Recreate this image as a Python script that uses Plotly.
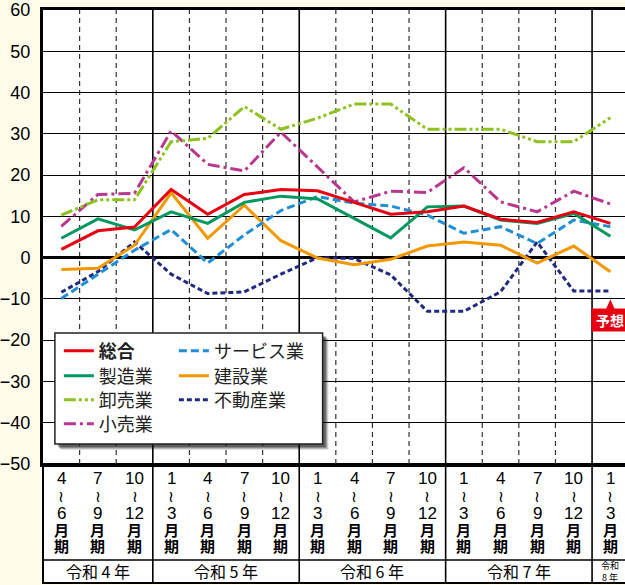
import plotly.graph_objects as go

# ---- data ----
start_month = [4, 7, 10, 1, 4, 7, 10, 1, 4, 7, 10, 1, 4, 7, 10, 1]
end_month = [6, 9, 12, 3, 6, 9, 12, 3, 6, 9, 12, 3, 6, 9, 12, 3]
year_labels = ["令和 4 年", "令和 5 年", "令和 6 年", "令和 7 年", "令和<br>8 年"]
year_counts = [3, 4, 4, 4, 1]

sogo = [2.0, 6.5, 7.4, 16.5, 10.5, 15.3, 16.5, 16.2, 13.4, 10.5, 11.1, 12.5, 9.3, 8.5, 11.1, 8.3]
seizo = [4.7, 9.4, 6.7, 11.1, 8.3, 13.4, 14.9, 14.2, 9.5, 4.8, 12.3, 12.5, 9.1, 8.3, 10.7, 5.2]
oroshi = [10.3, 14.0, 14.0, 28.1, 28.9, 36.6, 31.1, 33.8, 37.2, 37.2, 31.1, 31.1, 31.1, 28.1, 28.1, 33.9]
kouri = [7.6, 15.3, 15.6, 30.7, 22.6, 21.0, 30.4, 21.9, 13.5, 16.1, 15.8, 21.8, 13.5, 11.1, 16.1, 13.0]
service = [-9.9, -4.0, 1.8, 6.8, -1.3, 5.5, 11.4, 14.8, 13.2, 12.5, 10.3, 5.9, 7.5, 3.4, 9.1, 7.5]
kensetsu = [-2.9, -2.6, 3.0, 15.7, 4.7, 12.7, 4.1, -0.1, -1.7, -0.4, 2.8, 3.8, 3.0, -1.3, 2.8, -3.4]
fudosan = [-8.4, -3.4, 3.8, -4.0, -8.7, -8.3, -4.0, 0.0, -0.2, -4.2, -13.0, -13.0, -8.3, 3.8, -8.1, -8.1]

y_ticks = [60, 50, 40, 30, 20, 10, 0, -10, -20, -30, -40, -50]

n = len(start_month)
xs = list(range(n))

W, H = 625, 585
PLOT_TOP, PLOT_BOT, PLOT_L = 10, 464, 38


def py(Y):
    return (PLOT_BOT - Y) / (PLOT_BOT - PLOT_TOP)


def px(X):
    return (X - PLOT_L) / (W - PLOT_L)


# series: name, values, color, dash, legend column, legend row
series = [
    ("不動産業", fudosan, "#1F2A80", "5px,3px", 1, 2),
    ("建設業", kensetsu, "#F39800", "solid", 1, 1),
    ("サービス業", service, "#1E8FD6", "8px,4px", 1, 0),
    ("小売業", kouri, "#B8378F", "12px,4px,3px,4px", 0, 3),
    ("卸売業", oroshi, "#8DC21F", "12px,3px,3px,3px,3px,3px", 0, 2),
    ("製造業", seizo, "#00985E", "solid", 0, 1),
    ("<b>総合</b>", sogo, "#E60012", "solid", 0, 0),
]

col_x = [54, 170]
row_y = [351, 376, 400, 424]

legend_common = dict(bgcolor="rgba(0,0,0,0)", borderwidth=0,
                     font=dict(family="Noto Sans CJK JP", size=18, color="#222"),
                     orientation="v", xanchor="left", yanchor="middle",
                     tracegroupgap=0, itemwidth=30)

fig = go.Figure()
legend_layouts = {}
for k, (name, vals, color, dash, col, row) in enumerate(series):
    lg = "legend" if k == 0 else "legend%d" % (k + 1)
    fig.add_trace(go.Scatter(
        x=xs, y=vals, mode="lines", name=name,
        line=dict(color=color, width=3, dash=dash),
        legend=lg,
    ))
    legend_layouts[lg] = dict(x=px(col_x[col]), y=py(row_y[row]), **legend_common)

shapes = []
# table below plot
shapes.append(dict(type="rect", xref="paper", yref="paper", x0=0, x1=1.02,
                   y0=py(583), y1=0, fillcolor="white",
                   line=dict(color="black", width=2), layer="below"))
shapes.append(dict(type="line", xref="paper", yref="paper", x0=0, x1=1.02,
                   y0=py(560), y1=py(560), line=dict(color="black", width=1.5),
                   layer="below"))

# vertical boundaries
year_bounds = []
acc = 0
for c in year_counts[:-1]:
    acc += c
    year_bounds.append(acc - 0.5)
for k in range(n - 1):
    b = k + 0.5
    if b in year_bounds:
        shapes.append(dict(type="line", xref="x", yref="paper", x0=b, x1=b,
                           y0=py(583), y1=1, line=dict(color="black", width=1.6),
                           layer="below"))
    else:
        shapes.append(dict(type="line", xref="x", yref="paper", x0=b, x1=b,
                           y0=0, y1=1, line=dict(color="#333", width=1.2, dash="5px,4px"),
                           layer="below"))

# legend box with shadow
bx0, bx1, by0, by1 = 50, 320, 444, 333
for off, op in [(6, 0.12), (5, 0.18), (4, 0.25), (3, 0.3)]:
    shapes.append(dict(type="rect", xref="paper", yref="paper",
                       x0=px(bx0 + off), x1=px(bx1 + off), y0=py(by0 + off), y1=py(by1 + off),
                       fillcolor="rgba(0,0,0,%s)" % op, line=dict(width=0), layer="above"))
shapes.append(dict(type="rect", xref="paper", yref="paper",
                   x0=px(bx0), x1=px(bx1), y0=py(by0), y1=py(by1),
                   fillcolor="white", line=dict(color="#222", width=1.5), layer="above"))

# callout triangle for 予想
last = n - 1
tip = fudosan[last] - 2.0
shapes.append(dict(type="path", xref="x", yref="y",
                   path="M %f,%f L %f,%f L %f,%f Z" % (last - 0.12, tip - 2.4, last, tip, last + 0.12, tip - 2.4),
                   fillcolor="#E60012", line=dict(width=0), layer="above"))

annotations = []
num_font = dict(family="Liberation Sans, Arial, sans-serif", size=17, color="black")
cjk_font = dict(family="Noto Sans CJK JP", size=15, color="black")
for i in range(n):
    rows = [(str(start_month[i]), 478, num_font),
            ("≀", 496, dict(family="DejaVu Sans", size=16, color="black")),
            (str(end_month[i]), 513, num_font),
            ("<b>月</b>", 529, cjk_font),
            ("<b>期</b>", 545, cjk_font)]
    for txt, Y, f in rows:
        annotations.append(dict(x=i, y=py(Y), xref="x", yref="paper", text=txt,
                                showarrow=False, font=f, xanchor="center", yanchor="middle",
                                borderpad=0))

acc = 0
for lbl, c in zip(year_labels, year_counts):
    center = acc + (c - 1) / 2
    acc += c
    small = "<br>" in lbl
    annotations.append(dict(x=center, y=py(571), xref="x", yref="paper", text=lbl,
                            showarrow=False,
                            font=dict(family="Noto Sans CJK JP", size=9 if small else 16,
                                      color="black"),
                            xanchor="center", yanchor="middle", borderpad=0))

annotations.append(dict(x=last, y=fudosan[last] - 7.0, xref="x", yref="y",
                        text="<b>予想</b>", showarrow=False,
                        font=dict(family="Noto Sans CJK JP", size=14, color="white"),
                        bgcolor="#E60012", width=36, height=22, borderpad=0,
                        xanchor="center", yanchor="middle"))

fig.update_layout(
    width=W, height=H,
    margin=dict(l=PLOT_L, r=0, t=PLOT_TOP, b=H - PLOT_BOT),
    paper_bgcolor="#FFFCEB",
    plot_bgcolor="white",
    showlegend=True,
    xaxis=dict(range=[-0.5, n - 0.6], showgrid=False, zeroline=False,
               showticklabels=False, showline=True, mirror=True,
               linecolor="black", linewidth=2.5, fixedrange=True),
    yaxis=dict(range=[-50, 60], tickvals=y_ticks, showgrid=True,
               gridcolor="black", gridwidth=1.2, zeroline=True,
               zerolinecolor="black", zerolinewidth=3, showline=True,
               linecolor="black", linewidth=3, ticks="", ticklabelstandoff=6,
               tickfont=dict(family="Liberation Sans, Arial, sans-serif", size=18, color="black")),
    shapes=shapes,
    annotations=annotations,
    **legend_layouts,
)

fig.write_html("out.html", config={"displayModeBar": False},
               post_script="document.body.style.margin='0';document.body.style.overflow='hidden';")
